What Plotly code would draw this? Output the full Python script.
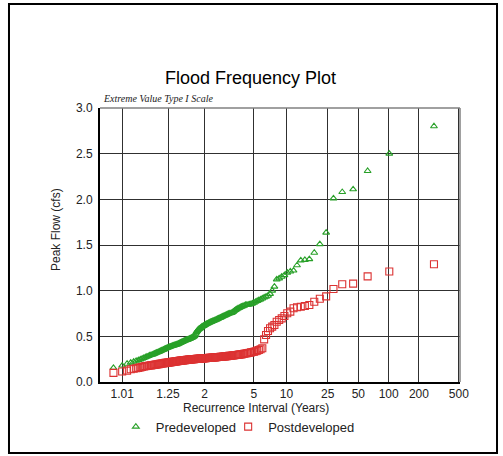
import math
import plotly.graph_objects as go

# ---- data (ranked annual peaks, largest first) ----
n_years = 158
predeveloped = [
    2.80, 2.50, 2.31, 2.11, 2.08, 2.01, 1.635, 1.51, 1.415, 1.345,
    1.337, 1.332, 1.278, 1.22, 1.21, 1.197, 1.17, 1.153, 1.135, 1.124,
    1.044, 1.00, 0.965, 0.945, 0.935, 0.925, 0.915, 0.905, 0.896, 0.887,
    0.878, 0.868, 0.861, 0.854, 0.850, 0.847, 0.845, 0.843, 0.836, 0.830,
    0.825, 0.820, 0.812, 0.805, 0.798, 0.790, 0.780, 0.770, 0.762, 0.755,
    0.752, 0.750, 0.745, 0.740, 0.735, 0.730, 0.725, 0.720, 0.715, 0.710,
    0.705, 0.700, 0.695, 0.690, 0.685, 0.681, 0.677, 0.673, 0.669, 0.665,
    0.661, 0.657, 0.653, 0.649, 0.645, 0.640, 0.635, 0.630, 0.625, 0.620,
    0.615, 0.610, 0.605, 0.598, 0.590, 0.584, 0.578, 0.570, 0.560, 0.548,
    0.530, 0.512, 0.502, 0.496, 0.490, 0.486, 0.482, 0.478, 0.474, 0.470,
    0.467, 0.464, 0.461, 0.458, 0.455, 0.451, 0.447, 0.443, 0.439, 0.435,
    0.431, 0.427, 0.423, 0.419, 0.415, 0.412, 0.409, 0.406, 0.403, 0.400,
    0.397, 0.394, 0.391, 0.388, 0.385, 0.381, 0.377, 0.373, 0.369, 0.365,
    0.360, 0.355, 0.350, 0.345, 0.340, 0.335, 0.330, 0.325, 0.320, 0.315,
    0.310, 0.305, 0.300, 0.295, 0.290, 0.284, 0.278, 0.271, 0.263, 0.255,
    0.248, 0.240, 0.232, 0.222, 0.212, 0.200, 0.180, 0.155,
]
postdeveloped = [
    1.29, 1.21, 1.157, 1.077, 1.07, 1.018, 0.938, 0.912, 0.879, 0.843,
    0.832, 0.824, 0.818, 0.807, 0.770, 0.752, 0.723, 0.697, 0.679, 0.660,
    0.624, 0.606, 0.588, 0.558, 0.515, 0.467, 0.369, 0.358, 0.350, 0.343,
    0.337, 0.332, 0.328, 0.324, 0.321, 0.318, 0.315, 0.312, 0.309, 0.306,
    0.303, 0.302, 0.300, 0.298, 0.296, 0.295, 0.293, 0.292, 0.290, 0.288,
    0.287, 0.286, 0.285, 0.283, 0.282, 0.281, 0.280, 0.279, 0.277, 0.276,
    0.275, 0.274, 0.274, 0.273, 0.272, 0.271, 0.270, 0.269, 0.268, 0.267,
    0.266, 0.266, 0.265, 0.264, 0.263, 0.262, 0.262, 0.261, 0.260, 0.260,
    0.259, 0.258, 0.258, 0.257, 0.257, 0.256, 0.255, 0.255, 0.254, 0.253,
    0.252, 0.252, 0.251, 0.250, 0.250, 0.249, 0.248, 0.247, 0.246, 0.245,
    0.244, 0.243, 0.242, 0.241, 0.240, 0.239, 0.238, 0.237, 0.236, 0.235,
    0.234, 0.233, 0.231, 0.230, 0.228, 0.227, 0.226, 0.225, 0.223, 0.222,
    0.221, 0.220, 0.218, 0.217, 0.215, 0.213, 0.212, 0.211, 0.210, 0.209,
    0.207, 0.205, 0.203, 0.202, 0.200, 0.198, 0.196, 0.194, 0.192, 0.190,
    0.188, 0.186, 0.184, 0.182, 0.180, 0.178, 0.176, 0.174, 0.170, 0.165,
    0.160, 0.155, 0.150, 0.145, 0.140, 0.125, 0.115, 0.100,
]
tick_intervals = [1.01, 1.25, 2, 5, 10, 25, 50, 100, 200, 500]
tick_labels = ["1.01", "1.25", "2", "5", "10", "25", "50", "100", "200", "500"]
y_ticks = [0.0, 0.5, 1.0, 1.5, 2.0, 2.5, 3.0]


def gumbel(T):
    """Extreme Value Type I reduced variate for recurrence interval T."""
    return -math.log(-math.log(1.0 - 1.0 / T))


def recurrence(rank, n):
    """Gringorten plotting position."""
    return (n + 0.12) / (rank - 0.44)


ranks = list(range(1, n_years + 1))
x_pos = [gumbel(recurrence(m, n_years)) for m in ranks]
T_vals = [recurrence(m, n_years) for m in ranks]

GREEN = "rgb(40,160,40)"
RED = "rgb(220,50,50)"
FONT = "Liberation Sans, Arial, sans-serif"
TXT = "#222222"

fig = go.Figure()
fig.add_trace(go.Scatter(
    x=x_pos, y=predeveloped, mode="markers", name="Predeveloped",
    customdata=T_vals, legend="legend",
    marker=dict(symbol="triangle-up-open", size=6, color=GREEN, line=dict(width=1.1, color=GREEN)),
))
fig.add_trace(go.Scatter(
    x=x_pos, y=postdeveloped, mode="markers", name="Postdeveloped",
    customdata=T_vals, legend="legend2",
    marker=dict(symbol="square-open", size=7, color=RED, line=dict(width=1.1, color=RED)),
))

x_lo, x_hi = -2.04, 6.24

legend_common = dict(orientation="h", yanchor="middle", y=-0.163, xanchor="left",
                     font=dict(size=13, color=TXT), itemwidth=30,
                     bgcolor="rgba(0,0,0,0)")

fig.update_layout(
    width=503, height=456,
    margin=dict(l=100, r=43, t=108, b=74),
    paper_bgcolor="white", plot_bgcolor="white",
    font=dict(family=FONT, size=12, color=TXT),
    showlegend=True,
    legend=dict(x=0.044, **legend_common),
    legend2=dict(x=0.356, **legend_common),
    xaxis=dict(
        range=[x_lo, x_hi], tickvals=[gumbel(t) for t in tick_intervals], ticktext=tick_labels,
        showgrid=True, gridcolor="#303030", gridwidth=1, zeroline=False,
        showline=True, linecolor="black", linewidth=2,
        ticks="", ticklabelstandoff=0, tickfont=dict(size=12, color=TXT),
    ),
    yaxis=dict(
        range=[0, 3.0], tickvals=y_ticks, tickformat=".1f",
        showgrid=True, gridcolor="#303030", gridwidth=1, zeroline=False,
        showline=True, linecolor="black", linewidth=2,
        ticks="", ticklabelstandoff=3, tickfont=dict(size=12, color=TXT),
    ),
    annotations=[
        dict(text="Flood Frequency Plot", x=0.417, y=1.109, xref="paper", yref="paper",
             showarrow=False, xanchor="center", yanchor="middle",
             font=dict(size=18, family=FONT, color="black")),
        dict(text="<i>Extreme Value Type I Scale</i>", x=0.004, y=1.033, xref="paper", yref="paper",
             showarrow=False, xanchor="left", yanchor="middle",
             font=dict(size=10, family="Liberation Serif, Times New Roman, serif", color=TXT)),
        dict(text="Peak Flow (cfs)", x=-0.122, y=0.555, xref="paper", yref="paper",
             showarrow=False, textangle=-90, xanchor="center", yanchor="middle",
             font=dict(size=12, color=TXT)),
        dict(text="Recurrence Interval (Years)", x=0.432, y=-0.095, xref="paper", yref="paper",
             showarrow=False, xanchor="center", yanchor="middle",
             font=dict(size=12, color=TXT)),
    ],
    shapes=[
        # top and right plot border (light)
        dict(type="line", xref="paper", yref="paper", x0=0, x1=1, y0=1, y1=1,
             line=dict(color="#808080", width=1.5)),
        dict(type="line", xref="paper", yref="paper", x0=1, x1=1, y0=0, y1=1,
             line=dict(color="#808080", width=1.5)),
        # outer frame
        dict(type="rect", xref="paper", yref="paper",
             x0=-0.2528, x1=1.1028, y0=-0.2591, y1=1.3796,
             line=dict(color="black", width=2), layer="below"),
    ],
)

fig.write_html(
    "out.html",
    config={"displayModeBar": False},
    post_script="document.body.style.margin='0';document.body.style.overflow='hidden';",
)
